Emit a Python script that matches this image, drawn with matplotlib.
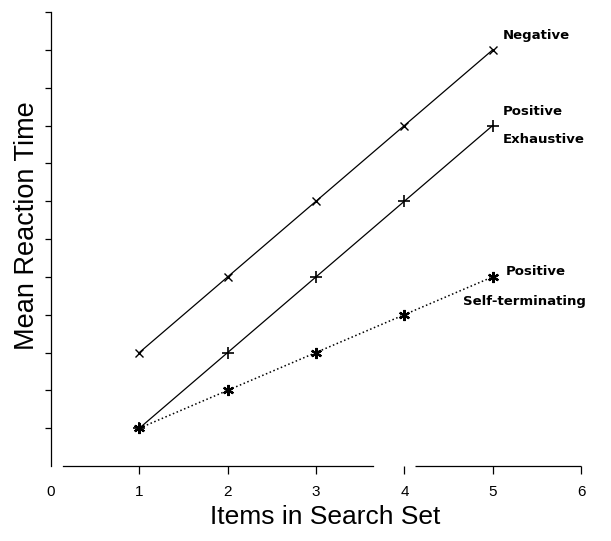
import numpy as np
import matplotlib
matplotlib.use("Agg")
import matplotlib.pyplot as plt

plt.rcParams['font.family'] = ['Liberation Sans', 'DejaVu Sans']

# données
set_size = [1, 2, 3, 4, 5]
rt_negative = [3, 5, 7, 9, 11]
rt_pos_exhaustive = [1, 3, 5, 7, 9]
rt_pos_self_term = [1, 2, 3, 4, 5]
x_ticks = [0, 1, 2, 3, 4, 5, 6]
y_ticks = list(range(1, 13))

fig = plt.figure(figsize=(6.11, 5.41), dpi=100)
ax = fig.add_axes([0.0835, 0.1386, 0.8675, 0.8392])

ax.plot(set_size, rt_negative, 'k-', marker='x', markersize=6, linewidth=0.9, mew=1.0)
ax.plot(set_size, rt_pos_exhaustive, 'k-', marker='+', markersize=8, linewidth=0.9, mew=1.2)
ax.plot(set_size, rt_pos_self_term, 'k:', marker=(6, 2, 0), markersize=8, linewidth=1.1, mew=1.6)

# annotations des courbes
lab_font = dict(fontsize=9.5, fontweight='bold', va='center', family='DejaVu Sans')
ax.text(5.11, 11.37, "Negative", **lab_font)
ax.text(5.11, 9.36, "Positive", **lab_font)
ax.text(5.11, 8.62, "Exhaustive", **lab_font)
ax.text(5.15, 5.13, "Positive", **lab_font)
ax.text(4.66, 4.36, "Self-terminating", **lab_font)

ax.set_xlim(0, 6)
ax.set_ylim(0, 12)
ax.set_xticks(x_ticks[1:])
ax.set_yticks(y_ticks)
ax.set_yticklabels([])
for t in x_ticks:
    ax.text(t, -0.68, str(t), ha='center', va='center', fontsize=11)
ax.set_xticklabels([])

ax.spines['top'].set_visible(False)
ax.spines['right'].set_visible(False)
ax.spines['bottom'].set_bounds(0.14, 3.64)
ax.hlines(0, 4.12, 6, colors='k', linewidth=0.9, clip_on=False)
ax.spines['bottom'].set_linewidth(0.9)
ax.spines['left'].set_linewidth(0.9)
ax.tick_params(axis='x', direction='out', length=6, width=0.9)
ax.tick_params(axis='y', direction='out', length=4, width=0.9)

ax.set_xlabel("Items in Search Set", fontsize=19)
ax.xaxis.set_label_coords(0.518, -0.113)
ax.xaxis.label.set_va('center')
ax.set_ylabel("Mean Reaction Time", fontsize=19.5)
ax.yaxis.set_label_coords(-0.045, 0.53)
ax.yaxis.label.set_va('center')

plt.savefig("out.png", dpi=100)
plt.close()
